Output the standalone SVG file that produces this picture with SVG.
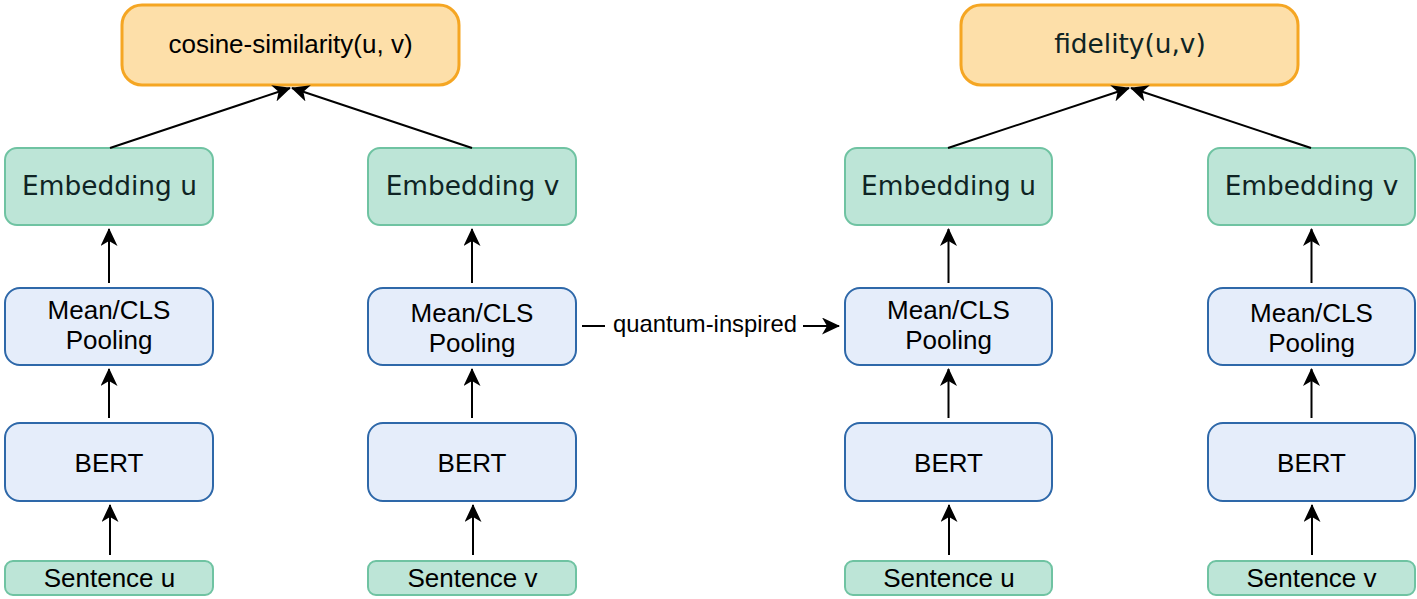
<svg xmlns="http://www.w3.org/2000/svg" width="1417" height="599" viewBox="0 0 1417 599">
<style>
.top{fill:#FDDFA9;stroke:#F5A623;stroke-width:3}
.grn{fill:#BDE5D7;stroke:#6FC3A2;stroke-width:2}
.blu{fill:#E5EDFA;stroke:#2E68A9;stroke-width:2}
.ar{font-family:"Liberation Sans",Arial,sans-serif;font-size:26px;fill:#000;text-anchor:middle}
.dv{font-family:"DejaVu Sans",Verdana,sans-serif;font-size:26.4px;fill:#0F2424;text-anchor:middle}
.c{stroke:#000;stroke-width:2;fill:none;marker-end:url(#ah)}
</style>
<defs>
<marker id="ah" markerUnits="userSpaceOnUse" markerWidth="18" markerHeight="17" refX="17" refY="8.5" orient="auto">
<path d="M0,0 L18,8.5 L0,17 L5,8.5 z" fill="#000"/>
</marker>
</defs>
<g id="cos"><rect class="top" x="122" y="5" width="337" height="80" rx="20"/><text class="ar" x="290.5" y="53">cosine-similarity(u, v)</text></g>
<g id="fid"><rect class="top" x="961" y="5" width="337" height="80" rx="20"/><text class="dv" x="1130" y="53">fidelity(u,v)</text></g>
<g id="emb1"><rect class="grn" x="5" y="148" width="208" height="77" rx="12"/><text class="dv" x="109.5" y="195">Embedding u</text></g>
<g id="emb2"><rect class="grn" x="368" y="148" width="208" height="77" rx="12"/><text class="dv" x="472.5" y="195">Embedding v</text></g>
<g id="emb3"><rect class="grn" x="845" y="148" width="207" height="77" rx="12"/><text class="dv" x="948.5" y="195">Embedding u</text></g>
<g id="emb4"><rect class="grn" x="1208" y="148" width="207" height="77" rx="12"/><text class="dv" x="1311.5" y="195">Embedding v</text></g>
<g id="pool1"><rect class="blu" x="5" y="288" width="208" height="77" rx="15"/><text class="ar" x="109" y="319">Mean/CLS</text><text class="ar" x="109" y="349">Pooling</text></g>
<g id="pool2"><rect class="blu" x="368" y="288" width="208" height="77" rx="15"/><text class="ar" x="472" y="322">Mean/CLS</text><text class="ar" x="472" y="352">Pooling</text></g>
<g id="pool3"><rect class="blu" x="845" y="288" width="207" height="77" rx="15"/><text class="ar" x="948.5" y="319">Mean/CLS</text><text class="ar" x="948.5" y="349">Pooling</text></g>
<g id="pool4"><rect class="blu" x="1208" y="288" width="207" height="77" rx="15"/><text class="ar" x="1311.5" y="322">Mean/CLS</text><text class="ar" x="1311.5" y="352">Pooling</text></g>
<g id="bert1"><rect class="blu" x="5" y="423" width="208" height="78" rx="15"/><text class="ar" x="109" y="472">BERT</text></g>
<g id="bert2"><rect class="blu" x="368" y="423" width="208" height="78" rx="15"/><text class="ar" x="472" y="472">BERT</text></g>
<g id="bert3"><rect class="blu" x="845" y="423" width="207" height="78" rx="15"/><text class="ar" x="948.5" y="472">BERT</text></g>
<g id="bert4"><rect class="blu" x="1208" y="423" width="207" height="78" rx="15"/><text class="ar" x="1311.5" y="472">BERT</text></g>
<g id="sent1"><rect class="grn" x="5" y="561" width="208" height="34" rx="8"/><text class="ar" x="109.5" y="587">Sentence u</text></g>
<g id="sent2"><rect class="grn" x="368" y="561" width="208" height="34" rx="8"/><text class="ar" x="472.5" y="587">Sentence v</text></g>
<g id="sent3"><rect class="grn" x="845" y="561" width="207" height="34" rx="8"/><text class="ar" x="949" y="587">Sentence u</text></g>
<g id="sent4"><rect class="grn" x="1208" y="561" width="207" height="34" rx="8"/><text class="ar" x="1311.5" y="587">Sentence v</text></g>
<g id="connectors">
<line class="c" x1="110" y1="148" x2="290" y2="88"/>
<line class="c" x1="472" y1="148" x2="292" y2="88"/>
<line class="c" x1="948" y1="148" x2="1129" y2="88"/>
<line class="c" x1="1311" y1="148" x2="1131" y2="88"/>
<line class="c" x1="109" y1="283" x2="109" y2="229"/>
<line class="c" x1="472" y1="283" x2="472" y2="229"/>
<line class="c" x1="948.5" y1="283" x2="948.5" y2="229"/>
<line class="c" x1="1311.5" y1="283" x2="1311.5" y2="229"/>
<line class="c" x1="109" y1="418" x2="109" y2="369"/>
<line class="c" x1="472" y1="418" x2="472" y2="369"/>
<line class="c" x1="948.5" y1="418" x2="948.5" y2="369"/>
<line class="c" x1="1311.5" y1="418" x2="1311.5" y2="369"/>
<line class="c" x1="110" y1="555" x2="110" y2="505"/>
<line class="c" x1="473" y1="555" x2="473" y2="505"/>
<line class="c" x1="949" y1="555" x2="949" y2="505"/>
<line class="c" x1="1312" y1="555" x2="1312" y2="505"/>
<line x1="582" y1="326" x2="605" y2="326" stroke="#000" stroke-width="2"/>
<line class="c" x1="803" y1="326" x2="839" y2="326"/>
<text class="ar" x="705" y="332" style="font-size:23.8px">quantum-inspired</text>
</g>
</svg>
